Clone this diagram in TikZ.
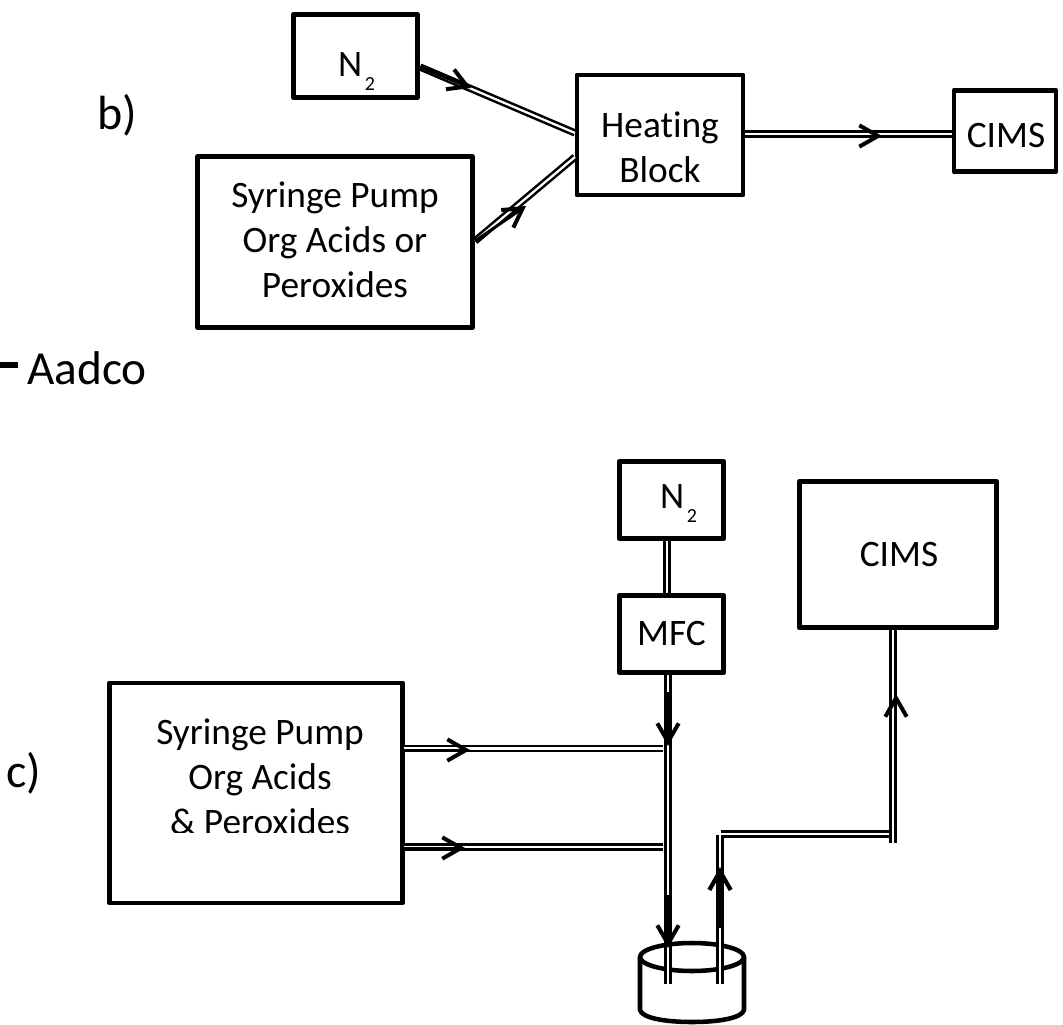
\documentclass[tikz,border=0pt]{standalone}
\usepackage{fontspec}
\setmainfont[Ligatures=NoCommon]{Carlito}
\usetikzlibrary{arrows.meta}
\newcommand{\Ntwo}[2]{\hspace{#1}\smash{\raisebox{#2}{N\hspace{2pt}\raisebox{-10.5pt}{\fontsize{15}{15}\selectfont 2}}}}
\tikzset{
  x=0.75pt,y=-0.75pt,
  box/.style={draw=black,line width=3.7pt,line join=round,align=center,inner sep=0pt,font=\fontsize{28}{33.75}\selectfont},
  tube/.style={draw=black,line width=1.9pt,double=white,double distance=1.7pt},
  flow/.style={draw=black,line width=2.2pt,-{Straight Barb[length=14pt,width=16pt,line width=3pt]}},
  fatflow/.style={draw=black,line width=5pt,-{Straight Barb[length=14pt,width=16pt,line width=3.2pt]}},
  lab/.style={inner sep=0pt,font=\fontsize{36}{40}\selectfont},
}
\begin{document}
\begin{tikzpicture}
\useasboundingbox (0,0) rectangle (1063,1024);
% --- panel b
\node[box,minimum width=93pt,minimum height=62pt] (n2b) at (355.5,56) {\Ntwo{1.5pt}{-15pt}};
\node[box,minimum width=124.5pt,minimum height=90pt] (heat) at (660,135) {\rule{0pt}{38pt}Heating\\Block};
\node[box,minimum width=76.5pt,minimum height=61pt] (cimsb) at (1005,131) {\hspace{1.5pt}\smash{\raisebox{-12.75pt}{CIMS}}};
\node[box,minimum width=206pt,minimum height=128pt] (spb) at (335,242) {Syringe Pump\\Org Acids or\\Peroxides\rule[-3pt]{0pt}{1pt}};
\node[lab] (lb) at (117,115) {b)};
\coordinate (b1s) at (420,67); \coordinate (b1e) at (575,133); \coordinate (b1t) at (471,88);
\coordinate (b2s) at (475,241); \coordinate (b2e) at (575,157); \coordinate (b2t) at (526,206);
\coordinate (b3s) at (745,134); \coordinate (b3e) at (952,134); \coordinate (b3t) at (882,136); \coordinate (b3f) at (833,136);
\draw[tube] (b1s) -- (b1e);
\draw[tube] (b2s) -- (b2e);
\draw[tube] (b3s) -- (b3e);
\draw[flow] (b1s) -- (b1t);
\draw[flow] (b2s) -- (b2t);
\draw[flow] (b3f) -- (b3t);
% --- Aadco
\coordinate (as) at (0,365); \coordinate (ae) at (18,365);
\draw[line width=4.5pt] (as) -- (ae);
\node[lab,anchor=west,font=\fontsize{35.5}{40}\selectfont] (aadco) at (27,368) {Aadco};
% --- panel c
\node[box,minimum width=78.4pt,minimum height=58pt] (n2c) at (671.5,500) {\Ntwo{10.5pt}{-6pt}};
\node[box,minimum width=78.4pt,minimum height=58pt] (mfc) at (671.5,634) {MFC};
\node[box,minimum width=148pt,minimum height=110pt] (cimsc) at (898,554.5) {\hspace{1.5pt}CIMS};
\node[box,minimum width=220pt,minimum height=165pt] (spc) at (256,793) {};
\begin{scope}
\clip (120,690) rectangle (400,832);
\node[lab,align=center,font=\fontsize{28}{33.75}\selectfont,anchor=north] (spct) at (260,719) {Syringe Pump\\Org Acids\\\& Peroxides};
\end{scope}
\node[lab] (lc) at (24,773) {c)};
% cup
\coordinate (cupc) at (692,957);
\draw[line width=3.4pt,line join=round] (640,957) -- (640,1010) .. controls (642,1018) and (665,1022) .. (692,1022) .. controls (719,1022) and (742,1018) .. (744,1010) -- (744,957);
\draw[line width=3.4pt] (cupc) ellipse [x radius=52,y radius=14];
% tubes
\coordinate (m1) at (667,541); \coordinate (m2) at (667,593);
\coordinate (v1) at (668,675); \coordinate (v2) at (668,984);
\coordinate (h1s) at (404,748.5); \coordinate (h1e) at (663,748.5); \coordinate (h1t) at (470,750);
\coordinate (h2s) at (404,847); \coordinate (h2e) at (663,847); \coordinate (h2t) at (465,848);
\coordinate (r1) at (720,835); \coordinate (r2) at (720,984);
\coordinate (r3) at (721,834); \coordinate (r4) at (894,834);
\coordinate (r5) at (893,843); \coordinate (r6) at (893,630);
\draw[tube] (m1) -- (m2);
\draw[tube] (v1) -- (v2);
\draw[tube] (h1s) -- (h1e);
\draw[tube] (h2s) -- (h2e);
\draw[tube] (r1) -- (r2);
\draw[tube] (r3) -- (r4);
\draw[tube] (r5) -- (r6);
\draw[flow] (h1s |- h1t) -- (h1t);
\draw[flow] (h2s |- h2t) -- (h2t);
\coordinate (f1s) at (668,692); \coordinate (f1t) at (668,746);
\coordinate (f2s) at (668,895); \coordinate (f2t) at (668,948);
\coordinate (f3s) at (720,928); \coordinate (f3t) at (720,867);
\coordinate (f4s) at (896,763); \coordinate (f4t) at (896,694);
\draw[flow] (f1s) -- (f1t);
\draw[flow] (f2s) -- (f2t);
\draw[fatflow] (f3s) -- (f3t);
\draw[flow] (f4s) -- (f4t);
\end{tikzpicture}
\end{document}
